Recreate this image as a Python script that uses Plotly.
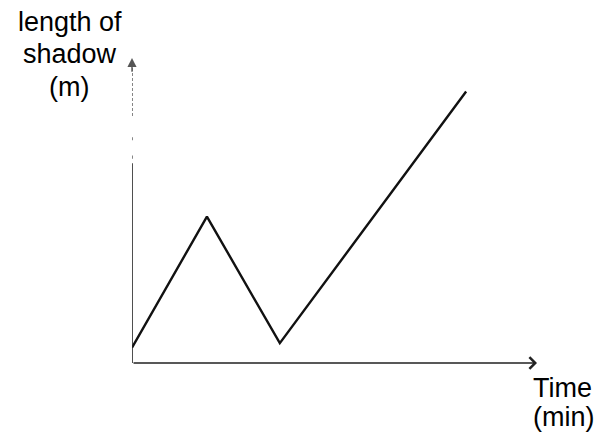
import plotly.graph_objects as go

# values (arbitrary units, axes have no ticks)
time_min = [0, 1.85, 3.65, 8.25]
shadow_m = [0.5, 4.8, 0.65, 8.9]

y_label = ["length of", "shadow", "(m)"]
x_label = ["Time", "(min)"]

# plot area in window pixels; the page body adds an 8px margin
L, R, T, B = 132, 537, 58, 363
WIN_W, WIN_H = 602, 443
OFF = 8
W, H = WIN_W - OFF, WIN_H - OFF


def paper(px, py):
    return (px - L) / (R - L), (B - py) / (B - T)


fig = go.Figure()
fig.add_trace(go.Scatter(
    x=time_min, y=shadow_m, mode="lines",
    line=dict(color="#111111", width=2.4),
    hoverinfo="skip", showlegend=False,
))

annotations = []
# x axis with open arrow
annotations.append(dict(
    x=10, y=0, ax=0, ay=0, xref="x", yref="y", axref="x", ayref="y",
    text="", showarrow=True, arrowhead=4, arrowsize=1.6, arrowwidth=1.4,
    arrowcolor="#222222",
))

# y axis: solid lower part, broken upper part, small filled arrow
shapes = [
    dict(type="line", xref="x", yref="y", x0=0, y0=0, x1=0, y1=6.55,
         line=dict(color="#222222", width=1.6)),
    dict(type="line", xref="x", yref="y", x0=0, y0=8.1, x1=0, y1=9.8,
         line=dict(color="#444444", width=1.3, dash="3px,2px")),
    dict(type="line", xref="x", yref="y", x0=0, y0=7.3, x1=0, y1=7.4,
         line=dict(color="#444444", width=1.3)),
    dict(type="line", xref="x", yref="y", x0=0, y0=6.7, x1=0, y1=6.8,
         line=dict(color="#444444", width=1.3)),
]
annotations.append(dict(
    x=0, y=10, ax=0, ay=9.5, xref="x", yref="y", axref="x", ayref="y",
    text="", showarrow=True, arrowhead=2, arrowsize=1.3, arrowwidth=1.4,
    arrowcolor="#555555",
))

font = dict(family="Liberation Sans, Arial, sans-serif", size=27, color="#000000")
for txt, (cx, cy) in zip(y_label, [(70, 22), (70, 54), (69, 87)]):
    px_, py_ = paper(cx, cy)
    annotations.append(dict(x=px_, y=py_, xref="paper", yref="paper", text=txt,
                            showarrow=False, font=font, xanchor="center", yanchor="middle"))
for txt, (cx, cy) in zip(x_label, [(562, 388), (564, 417)]):
    px_, py_ = paper(cx, cy)
    annotations.append(dict(x=px_, y=py_, xref="paper", yref="paper", text=txt,
                            showarrow=False, font=font, xanchor="center", yanchor="middle"))

fig.update_layout(
    width=W, height=H,
    margin=dict(l=L - OFF, r=WIN_W - R, t=T - OFF, b=WIN_H - B, pad=0),
    paper_bgcolor="white", plot_bgcolor="white",
    xaxis=dict(range=[0, 10], visible=False, fixedrange=True),
    yaxis=dict(range=[0, 10], visible=False, fixedrange=True),
    annotations=annotations, shapes=shapes,
)

fig.write_html("out.html")
